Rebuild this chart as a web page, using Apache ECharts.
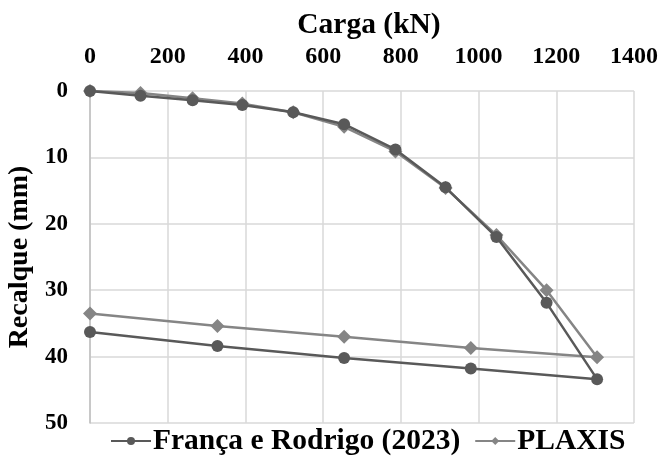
<!DOCTYPE html>
<html><head><meta charset="utf-8">
<script src="https://cdn.jsdelivr.net/npm/echarts@6/dist/echarts.min.js"></script>
<style>html,body{margin:0;padding:0;background:#fff}#c{width:662px;height:457px}</style>
</head><body><div id="c"></div>
<script>
// França e Rodrigo (2023): load (kN) and settlement (mm)
const frLoad = [0, 130, 264, 392, 523, 654, 786, 915, 1046, 1175, 1305, 980, 654, 328, 0];
const frSettle = [0, 0.7, 1.4, 2.1, 3.2, 5.0, 8.8, 14.5, 22.0, 31.9, 43.4, 41.8, 40.2, 38.4, 36.3];
// PLAXIS
const plLoad = [0, 130, 264, 392, 523, 654, 786, 915, 1046, 1175, 1305, 980, 654, 328, 0];
const plSettle = [0, 0.3, 1.1, 1.9, 3.2, 5.4, 9.1, 14.6, 21.7, 30.0, 40.1, 38.7, 37.0, 35.4, 33.5];
const seriesNames = ['França e Rodrigo (2023)', 'PLAXIS'];
const xTitle = 'Carga (kN)';
const yTitle = 'Recalque (mm)';

const pair = (xs, ys) => xs.map((x, i) => [x, ys[i]]);
const font = 'Liberation Serif';
const chart = echarts.init(document.getElementById('c'));
chart.setOption({
  animation: false,
  backgroundColor: '#fff',
  grid: {left: 90, right: 28, top: 91, bottom: 34, containLabel: false, outerBoundsMode: 'none'},
  title: {text: xTitle, left: 364, top: 5, textAlign: 'center',
    textStyle: {fontFamily: font, fontWeight: 'bold', fontSize: 29.5, color: '#000'}},
  xAxis: {type: 'value', position: 'top', min: 0, max: 1400, interval: 200,
    axisLine: {show: false}, axisTick: {show: false},
    axisLabel: {fontFamily: font, fontWeight: 'bold', fontSize: 24, color: '#000', margin: 22,
      formatter: v => String(v)},
    splitLine: {lineStyle: {color: '#d9d9d9', width: 1.5}}},
  yAxis: {type: 'value', inverse: true, min: 0, max: 50, interval: 10,
    name: yTitle, nameLocation: 'middle', nameGap: 51, nameRotate: 90,
    nameTextStyle: {fontFamily: font, fontWeight: 'bold', fontSize: 28, color: '#000'},
    axisLine: {show: true, onZero: false, lineStyle: {color: '#bfbfbf', width: 1.5}}, axisTick: {show: false},
    axisLabel: {fontFamily: font, fontWeight: 'bold', fontSize: 23, color: '#000', margin: 22,
      formatter: v => String(v)},
    splitLine: {lineStyle: {color: '#d9d9d9', width: 1.5}}},
  legend: {bottom: -4, left: 105, itemWidth: 40, itemHeight: 10, itemGap: 14,
    textStyle: {fontFamily: font, fontWeight: 'bold', fontSize: 29.5, color: '#000', padding: [0, 0, 0, -3]},
    data: seriesNames},
  series: [
    {name: seriesNames[0], type: 'line', data: pair(frLoad, frSettle), symbol: 'circle', symbolSize: 12,
      lineStyle: {color: '#595959', width: 2.5}, itemStyle: {color: '#595959'}, z: 3},
    {name: seriesNames[1], type: 'line', data: pair(plLoad, plSettle), symbol: 'diamond', symbolSize: 14,
      lineStyle: {color: '#858585', width: 2.5}, itemStyle: {color: '#858585'}, z: 2}
  ]
});
</script></body></html>
